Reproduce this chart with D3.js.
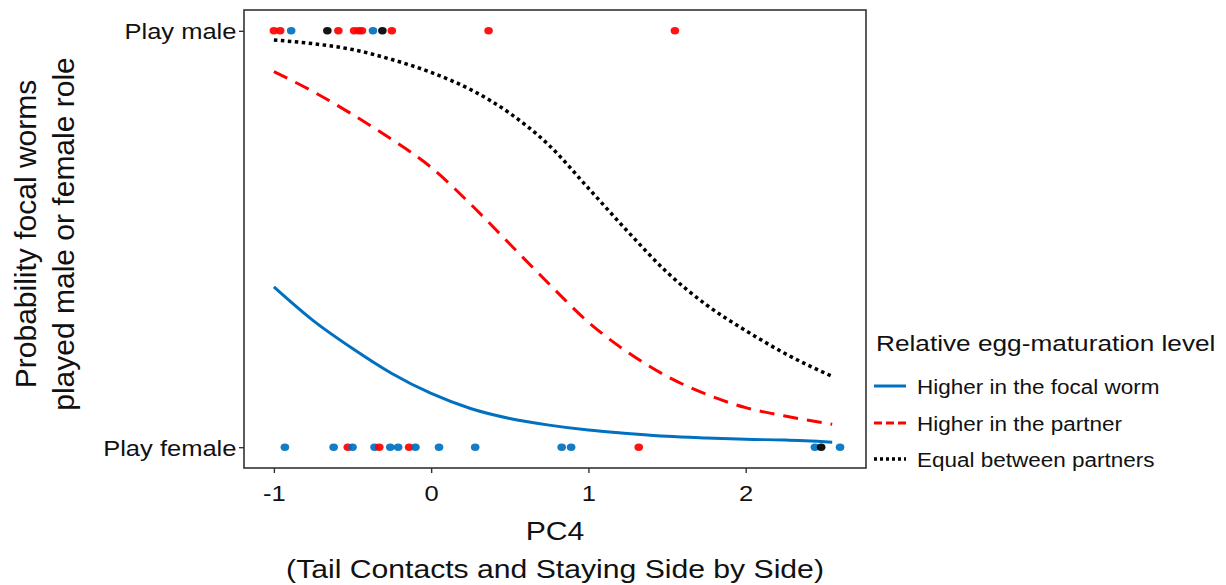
<!DOCTYPE html>
<html>
<head>
<meta charset="utf-8">
<script src="https://cdn.jsdelivr.net/npm/d3@7"></script>
<style>
    body { margin: 0; background: #fff; }
    svg { font-family: "Liberation Sans", Arial, sans-serif; }
</style>
</head>
<body>
<svg width="1226" height="585"></svg>
<script>
// Legend groups (relative egg-maturation level).
var groups = ["Higher in the focal worm", "Higher in the partner", "Equal between partners"];
var groupColors = ["#0070c0", "#ff0000", "#000000"];
var roleLabels = ["Play female", "Play male"];
var xTicks = [-1, 0, 1, 2];

// Observed pairs: PC4 score, role (0 = female, 1 = male), group index.
var obsPC4 = [-1.00, -0.96, -0.89, -0.66, -0.59, -0.49, -0.46, -0.44, -0.37, -0.31, -0.25, 0.365, 1.55,
              -0.93, -0.62, -0.53, -0.50, -0.36, -0.33, -0.26, -0.21, -0.14, -0.10, 0.05, 0.28, 0.83, 0.89, 1.32, 2.44, 2.48, 2.60];
var obsRole = [1, 1, 1, 1, 1, 1, 1, 1, 1, 1, 1, 1, 1,
               0, 0, 0, 0, 0, 0, 0, 0, 0, 0, 0, 0, 0, 0, 0, 0, 0, 0];
var obsGroup = [1, 1, 0, 2, 1, 1, 1, 1, 0, 2, 1, 1, 1,
                0, 0, 1, 0, 0, 1, 0, 0, 1, 0, 0, 0, 0, 0, 1, 0, 2, 0];

// Fitted probability curves.
var curvePC4 = [-1, -0.75, -0.5, -0.25, 0, 0.25, 0.5, 0.75, 1, 1.25, 1.5, 1.75, 2, 2.25, 2.55];
var focalCurve = [0.385, 0.304, 0.237, 0.177, 0.129, 0.093, 0.069, 0.053, 0.041, 0.033, 0.026, 0.022, 0.019, 0.017, 0.012];
var partnerCurve = [0.902, 0.854, 0.799, 0.739, 0.672, 0.584, 0.488, 0.392, 0.300, 0.228, 0.170, 0.127, 0.095, 0.075, 0.055];
var equalCurve = [0.978, 0.969, 0.955, 0.931, 0.900, 0.859, 0.802, 0.725, 0.622, 0.518, 0.420, 0.342, 0.280, 0.225, 0.170];

var svg = d3.select("svg");
// Panel edges (window.top is read-only, so no bare "top" here).
var panelLeft = 244, panelRight = 866, panelTop = 10, panelBottom = 468;
// The source figure is a little stretched sideways; text follows it.
var stretch = 1.16;

var x = d3.scaleLinear().domain([-1.19, 2.765]).range([panelLeft, panelRight]);
var y = d3.scaleLinear().domain([-0.05, 1.05]).range([panelBottom, panelTop]);

function wideText(parent, px, py, size, str, anchor) {
    return parent.append("text")
        .attr("transform", "translate(" + px + "," + py + ") scale(" + stretch + ",1)")
        .attr("text-anchor", anchor || "start")
        .style("font-size", size + "px")
        .attr("fill", "#111")
        .text(str);
}

// Curves.
var curves = [focalCurve, partnerCurve, equalCurve];
var dashes = [null, "15,9", "3.5,3.5"];
var line = d3.line()
    .x(function(d) { return x(d[0]); })
    .y(function(d) { return y(d[1]); })
    .curve(d3.curveMonotoneX);

curves.forEach(function(values, i) {
    svg.append("path")
        .datum(curvePC4.map(function(v, j) { return [v, values[j]]; }))
        .attr("fill", "none")
        .attr("stroke", groupColors[i])
        .attr("stroke-width", i == 2 ? 3.5 : 3)
        .attr("stroke-dasharray", dashes[i])
        .attr("d", line);
});

// Points, drawn in the order they were read.
svg.append("g").selectAll("ellipse")
    .data(obsPC4.map(function(v, i) { return {pc4: v, role: obsRole[i], group: obsGroup[i]}; }))
    .join("ellipse")
    .attr("cx", function(d) { return x(d.pc4); })
    .attr("cy", function(d) { return y(d.role); })
    .attr("rx", 4.3)
    .attr("ry", 3.7)
    .attr("fill", function(d) { return groupColors[d.group]; })
    .attr("fill-opacity", 0.92);

// Panel border.
svg.append("rect")
    .attr("x", panelLeft).attr("y", panelTop)
    .attr("width", panelRight - panelLeft).attr("height", panelBottom - panelTop)
    .attr("fill", "none")
    .attr("stroke", "#333")
    .attr("stroke-width", 1.6);

// Axes.
var xAxis = svg.append("g")
    .attr("transform", "translate(0," + panelBottom + ")")
    .call(d3.axisBottom(x).tickValues(xTicks).tickSize(5).tickFormat(function(d) { return String(d); }));
var yAxis = svg.append("g")
    .attr("transform", "translate(" + panelLeft + ",0)")
    .call(d3.axisLeft(y).tickValues([0, 1]).tickSize(5).tickFormat(function(d) { return roleLabels[d]; }));

[xAxis, yAxis].forEach(function(ax) {
    ax.select(".domain").remove();
    ax.selectAll(".tick line").attr("stroke", "#333").attr("stroke-width", 1.4);
    ax.selectAll(".tick text")
        .attr("fill", "#111")
        .attr("transform", "scale(" + stretch + ",1)")
        .style("font-family", "'Liberation Sans', Arial, sans-serif")
        .style("font-size", "22px");
});
xAxis.selectAll(".tick text").attr("y", 33).attr("dy", 0);
yAxis.selectAll(".tick text").attr("x", -6.5).attr("dy", "0.36em");

// Axis titles.
var midX = (panelLeft + panelRight) / 2;
wideText(svg, midX, 540, 26, "PC4", "middle");
wideText(svg, midX, 578, 26, "(Tail Contacts and Staying Side by Side)", "middle");

var yTitle = svg.append("text")
    .attr("transform", "translate(36," + ((panelTop + panelBottom) / 2 - 5) + ") rotate(-90)")
    .attr("text-anchor", "middle")
    .attr("fill", "#111")
    .style("font-size", "30px");
yTitle.append("tspan").attr("x", 0).attr("dy", 0).text("Probability focal worms");
yTitle.append("tspan").attr("x", 0).attr("dy", 38).text("played male or female role");

// Legend.
var legend = svg.append("g");
wideText(legend, 876, 351, 22.6, "Relative egg-maturation level");

var legendY = [386, 423, 459];
groups.forEach(function(name, i) {
    legend.append("line")
        .attr("x1", 874).attr("x2", 906)
        .attr("y1", legendY[i]).attr("y2", legendY[i])
        .attr("stroke", groupColors[i])
        .attr("stroke-width", i == 2 ? 3.5 : 3)
        .attr("stroke-dasharray", i == 1 ? "8,4" : (i == 2 ? "3,3" : null));
    wideText(legend, 917, legendY[i] + 7.5, 19.4, name);
});
</script>
</body>
</html>
